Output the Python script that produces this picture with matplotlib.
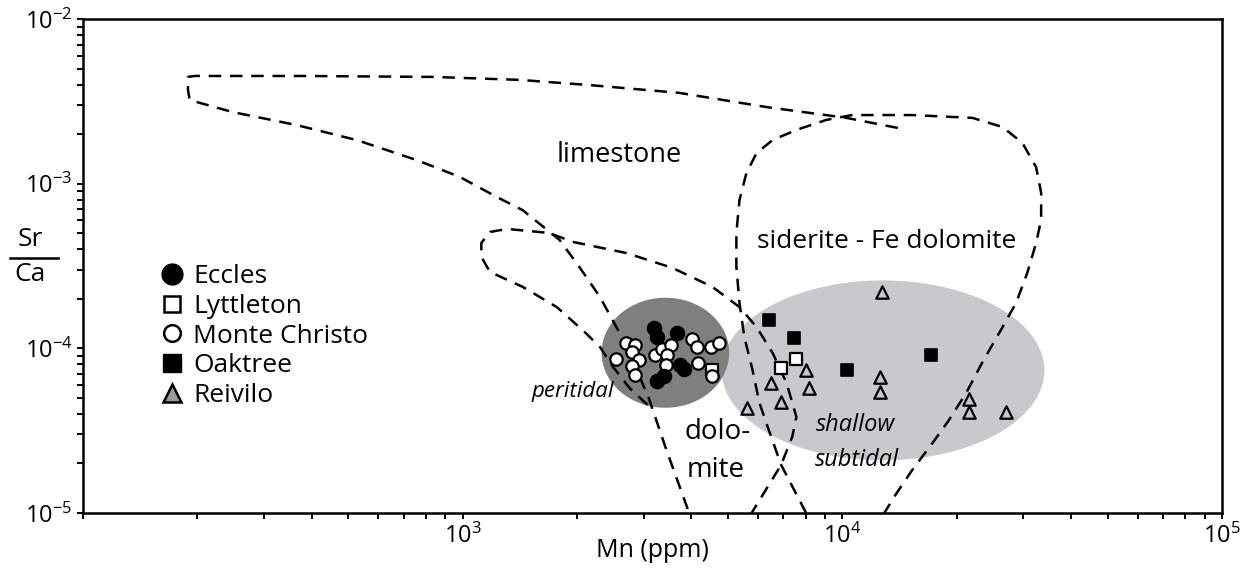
import numpy as np
import matplotlib.pyplot as plt
from matplotlib.lines import Line2D
from matplotlib.ticker import LogLocator, NullFormatter

plt.rcParams['font.family'] = ['Open Sans', 'DejaVu Sans']
plt.rcParams['mathtext.fontset'] = 'custom'
plt.rcParams['mathtext.rm'] = 'Open Sans'
plt.rcParams['mathtext.it'] = 'Open Sans:italic'

# --- samples: Mn (ppm) and Sr/Ca ---
eccles_mn = [3200, 3260, 3680, 3260, 3400, 3740, 3820]
eccles_srca = [1.33e-4, 1.17e-4, 1.24e-4, 6.3e-5, 6.8e-5, 7.9e-5, 7.5e-5]

lyttleton_mn = [4550, 7570, 6900]
lyttleton_srca = [7.4e-5, 8.6e-5, 7.6e-5]

monte_mn = [2700, 2840, 2790, 2910, 2800, 2840, 2540, 3220, 3360, 3530,
            3460, 3440, 4030, 4130, 4520, 4720, 4180, 4550]
monte_srca = [1.08e-4, 1.05e-4, 9.5e-5, 8.5e-5, 7.8e-5, 6.9e-5, 8.6e-5,
              9.1e-5, 9.9e-5, 1.05e-4, 9.1e-5, 7.9e-5, 1.14e-4, 1.02e-4,
              1.02e-4, 1.08e-4, 8.1e-5, 6.8e-5]

oaktree_mn = [6430, 7480, 10300, 17100]
oaktree_srca = [1.49e-4, 1.16e-4, 7.4e-5, 9.1e-5]

reivilo_mn = [12700, 8000, 6500, 8190, 6900, 5620, 12600, 12600, 21600,
              21600, 27000]
reivilo_srca = [2.2e-4, 7.4e-5, 6.2e-5, 5.75e-5, 4.7e-5, 4.35e-5, 6.7e-5,
                5.4e-5, 4.9e-5, 4.1e-5, 4.1e-5]

# --- field boundaries (dashed) ---
limestone_mn = [14000, 10250, 6310, 3720, 2160, 1410, 834, 373, 197, 189,
                189, 191, 248, 365, 526, 757, 982, 1230, 1440, 1800, 2030,
                2300, 2590, 2840, 3100, 3440, 3950]
limestone_srca = [2.18e-3, 2.51e-3, 2.92e-3, 3.56e-3, 3.97e-3, 4.27e-3,
                  4.45e-3, 4.51e-3, 4.51e-3, 4.45e-3, 3.71e-3, 3.22e-3,
                  2.72e-3, 2.27e-3, 1.84e-3, 1.39e-3, 1.10e-3, 8.3e-4,
                  6.9e-4, 4.55e-4, 3.12e-4, 2.05e-4, 1.24e-4, 7.9e-5,
                  4.9e-5, 2.42e-5, 1.0e-5]

dolomite_mn = [3070, 2750, 2470, 2300, 2070, 1770, 1440, 1180, 1120, 1120,
               1180, 1310, 1690, 1950, 2700, 3570, 4550, 5360, 5940, 6550,
               7130, 7570, 7380, 6900, 5770]
dolomite_srca = [4.53e-5, 5.75e-5, 7.9e-5, 1.02e-4, 1.29e-4, 1.78e-4,
                 2.36e-4, 2.91e-4, 3.59e-4, 4.37e-4, 5.09e-4, 5.31e-4,
                 5.02e-4, 4.43e-4, 3.79e-4, 3.08e-4, 2.36e-4, 1.78e-4,
                 1.35e-4, 9.4e-5, 6.17e-5, 3.83e-5, 2.90e-5, 1.96e-5, 1.0e-5]

siderite_mn = [8030, 6900, 6430, 6050, 5800, 5520, 5360, 5260, 5260, 5360,
               5590, 5940, 6550, 7570, 9080, 10600, 15300, 22000, 26400,
               29800, 32400, 33400, 33400, 32400, 30700, 28700, 25900,
               23300, 21200, 19100, 17300, 15300, 13900, 12900]
siderite_srca = [1.0e-5, 1.96e-5, 3.10e-5, 4.66e-5, 7.4e-5, 1.17e-4,
                 1.89e-4, 3.12e-4, 5.02e-4, 7.96e-4, 1.16e-3, 1.53e-3,
                 1.84e-3, 2.12e-3, 2.44e-3, 2.61e-3, 2.61e-3, 2.51e-3,
                 2.21e-3, 1.77e-3, 1.26e-3, 8.8e-4, 6.03e-4, 4.37e-4,
                 2.87e-4, 1.89e-4, 1.24e-4, 8.1e-5, 5.36e-5, 3.67e-5,
                 2.67e-5, 1.83e-5, 1.32e-5, 1.0e-5]

# environment ellipses: centre (Mn, Sr/Ca), half-axes in decades
peritidal_centre = (3420, 9.4e-5)
peritidal_half = (0.168, 0.334)
subtidal_centre = (12800, 7.35e-5)
subtidal_half = (0.425, 0.546)


def log_ellipse(centre, half, n=200):
    t = np.linspace(0, 2 * np.pi, n)
    lx = np.log10(centre[0]) + half[0] * np.cos(t)
    ly = np.log10(centre[1]) + half[1] * np.sin(t)
    return 10 ** lx, 10 ** ly


fig = plt.figure(figsize=(12.52, 5.71), dpi=100)
ax = fig.add_axes([0.0663, 0.1016, 0.9097, 0.8651])
ax.set_xscale('log')
ax.set_yscale('log')
ax.set_xlim(100, 1e5)
ax.set_ylim(1e-5, 1e-2)

ex, ey = log_ellipse(subtidal_centre, subtidal_half)
ax.fill(ex, ey, color='#c8c9cd', lw=0, zorder=1)
ex, ey = log_ellipse(peritidal_centre, peritidal_half)
ax.fill(ex, ey, color='#7f7f7f', lw=0, zorder=1)

dash = dict(color='black', lw=1.8, linestyle=(0, (5, 3.5)), zorder=2)
ax.plot(limestone_mn, limestone_srca, **dash)
ax.plot(dolomite_mn, dolomite_srca, **dash)
ax.plot(siderite_mn, siderite_srca, **dash)

ms = 80
ax.scatter(reivilo_mn, reivilo_srca, s=ms, marker='^', facecolor='#c6c7cb',
           edgecolor='black', linewidth=1.6, zorder=3)
ax.scatter(oaktree_mn, oaktree_srca, s=ms, marker='s', facecolor='black',
           edgecolor='black', linewidth=1.2, zorder=3)
ax.scatter(lyttleton_mn, lyttleton_srca, s=ms, marker='s', facecolor='white',
           edgecolor='black', linewidth=1.6, zorder=3)
ax.scatter(monte_mn, monte_srca, s=ms, marker='o', facecolor='white',
           edgecolor='black', linewidth=1.6, zorder=4)
ax.scatter(eccles_mn, eccles_srca, s=ms * 1.3, marker='o', facecolor='black',
           edgecolor='black', linewidth=1.0, zorder=4)

# field labels
ax.text(2590, 1.49e-3, 'limestone', fontsize=19.5, ha='center', va='center')
ax.text(13100, 4.43e-4, 'siderite - Fe dolomite', fontsize=19,
        ha='center', va='center')
ax.text(4690, 3.1e-5, 'dolo-', fontsize=20, ha='center', va='center')
ax.text(4630, 1.83e-5, 'mite', fontsize=20, ha='center', va='center')
ax.text(1950, 5.43e-5, 'peritidal', fontsize=16, style='italic',
        ha='center', va='center', zorder=5)
ax.text(10800, 3.43e-5, 'shallow', fontsize=17, style='italic',
        ha='center', va='center', zorder=5)
ax.text(10900, 2.1e-5, 'subtidal', fontsize=17, style='italic',
        ha='center', va='center', zorder=5)

handles = [
    Line2D([], [], ls='none', marker='o', ms=15, mfc='black', mec='black'),
    Line2D([], [], ls='none', marker='s', ms=12, mfc='white', mec='black',
           mew=1.8),
    Line2D([], [], ls='none', marker='o', ms=12, mfc='white', mec='black',
           mew=1.8),
    Line2D([], [], ls='none', marker='s', ms=13, mfc='black', mec='black'),
    Line2D([], [], ls='none', marker='^', ms=13, mfc='#9a9a9a', mec='black',
           mew=1.8),
]
labels = ['Eccles', 'Lyttleton', 'Monte Christo', 'Oaktree', 'Reivilo']
ax.legend(handles, labels, loc='upper left', bbox_to_anchor=(0.0667, 0.504),
          frameon=False, fontsize=19, handlelength=1.0, handletextpad=0.3,
          labelspacing=0.18, borderpad=0, borderaxespad=0)

ax.set_xticks([1e3, 1e4, 1e5])
ax.xaxis.set_minor_locator(LogLocator(base=10, subs=np.arange(1, 10)))
ax.xaxis.set_minor_formatter(NullFormatter())
ax.yaxis.set_minor_locator(LogLocator(base=10, subs=np.arange(2, 10)))
ax.yaxis.set_minor_formatter(NullFormatter())
ax.tick_params(which='both', direction='out', length=4, width=1.4,
               labelsize=17)
ax.tick_params(which='both', top=False, right=False)
for sp in ax.spines.values():
    sp.set_linewidth(1.8)

ax.set_xlabel('Mn (ppm)', fontsize=18)
ax.xaxis.set_label_coords(0.5, -0.05)

# Sr/Ca written as a fraction
fig.text(30 / 1252, 1 - 240 / 571, 'Sr', fontsize=19, ha='center',
         va='center')
fig.text(30 / 1252, 1 - 275 / 571, 'Ca', fontsize=19, ha='center',
         va='center')
fig.add_artist(Line2D([10 / 1252, 58 / 1252], [1 - 258 / 571, 1 - 258 / 571],
                      color='black', lw=1.8))

fig.savefig('out.png', dpi=100)
